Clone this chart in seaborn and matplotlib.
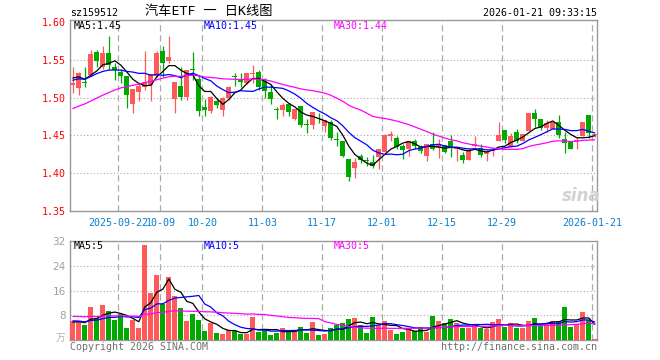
import numpy as np
import pandas as pd
import matplotlib
matplotlib.use('Agg')
import matplotlib.pyplot as plt
import seaborn as sns

# daily K-line data (88 sessions)
open_ = [1.517, 1.513, 1.520, 1.530, 1.560, 1.541, 1.559, 1.541, 1.534, 1.528,
         1.492, 1.507, 1.514, 1.516, 1.529, 1.562, 1.548, 1.498, 1.515, 1.501,
         1.538, 1.524, 1.487, 1.482, 1.495, 1.483, 1.499, 1.528, 1.523, 1.519,
         1.531, 1.534, 1.522, 1.507, 1.485, 1.483, 1.491, 1.472, 1.489, 1.465,
         1.464, 1.468, 1.463, 1.468, 1.445, 1.442, 1.419, 1.407, 1.423, 1.417,
         1.415, 1.421, 1.428, 1.449, 1.447, 1.436, 1.432, 1.442, 1.435, 1.423,
         1.438, 1.433, 1.437, 1.443, 1.432, 1.424, 1.417, 1.436, 1.433, 1.425,
         1.429, 1.442, 1.457, 1.435, 1.455, 1.443, 1.456, 1.480, 1.472, 1.460,
         1.459, 1.467, 1.445, 1.442, 1.442, 1.449, 1.477, 1.450]
high = [1.541, 1.534, 1.541, 1.563, 1.563, 1.568, 1.581, 1.545, 1.538, 1.528,
        1.511, 1.520, 1.562, 1.531, 1.561, 1.568, 1.581, 1.521, 1.541, 1.537,
        1.560, 1.530, 1.498, 1.502, 1.499, 1.501, 1.515, 1.532, 1.532, 1.532,
        1.543, 1.536, 1.526, 1.518, 1.488, 1.493, 1.493, 1.485, 1.489, 1.471,
        1.481, 1.479, 1.470, 1.470, 1.455, 1.442, 1.419, 1.420, 1.426, 1.422,
        1.424, 1.432, 1.452, 1.456, 1.449, 1.439, 1.443, 1.445, 1.437, 1.438,
        1.454, 1.445, 1.437, 1.450, 1.435, 1.428, 1.433, 1.449, 1.439, 1.431,
        1.435, 1.468, 1.457, 1.453, 1.459, 1.452, 1.479, 1.485, 1.472, 1.470,
        1.468, 1.477, 1.455, 1.442, 1.448, 1.468, 1.477, 1.452]
low = [1.506, 1.504, 1.514, 1.528, 1.541, 1.538, 1.536, 1.523, 1.519, 1.486,
       1.480, 1.495, 1.510, 1.495, 1.527, 1.527, 1.546, 1.480, 1.497, 1.497,
       1.523, 1.476, 1.476, 1.480, 1.486, 1.475, 1.497, 1.515, 1.514, 1.518,
       1.519, 1.510, 1.500, 1.491, 1.471, 1.475, 1.475, 1.470, 1.461, 1.453,
       1.458, 1.466, 1.455, 1.444, 1.436, 1.422, 1.390, 1.393, 1.414, 1.409,
       1.407, 1.406, 1.428, 1.443, 1.432, 1.419, 1.423, 1.432, 1.427, 1.416,
       1.431, 1.420, 1.427, 1.421, 1.416, 1.414, 1.417, 1.435, 1.422, 1.416,
       1.423, 1.442, 1.440, 1.435, 1.440, 1.443, 1.456, 1.461, 1.457, 1.455,
       1.459, 1.446, 1.427, 1.432, 1.432, 1.449, 1.447, 1.448]
close = [1.519, 1.533, 1.519, 1.557, 1.548, 1.559, 1.543, 1.536, 1.528, 1.503,
         1.511, 1.515, 1.521, 1.531, 1.559, 1.546, 1.554, 1.521, 1.501, 1.537,
         1.537, 1.482, 1.483, 1.501, 1.490, 1.499, 1.514, 1.527, 1.520, 1.532,
         1.533, 1.514, 1.509, 1.498, 1.484, 1.490, 1.481, 1.485, 1.464, 1.464,
         1.481, 1.467, 1.470, 1.447, 1.444, 1.423, 1.395, 1.415, 1.417, 1.416,
         1.409, 1.432, 1.450, 1.452, 1.434, 1.431, 1.442, 1.436, 1.429, 1.438,
         1.432, 1.438, 1.428, 1.435, 1.435, 1.418, 1.431, 1.439, 1.424, 1.428,
         1.431, 1.451, 1.444, 1.449, 1.443, 1.452, 1.479, 1.472, 1.460, 1.466,
         1.468, 1.450, 1.440, 1.432, 1.444, 1.468, 1.453, 1.451]
volume = [6.1, 6.1, 4.7, 10.8, 7.2, 11.2, 9.5, 6.5, 8.5, 4.0,
          6.5, 4.0, 30.6, 15.2, 20.9, 11.5, 20.5, 14.1, 10.3, 6.1,
          8.3, 6.6, 2.9, 5.4, 2.2, 1.8, 3.1, 2.9, 2.0, 2.0,
          7.4, 2.5, 3.3, 1.5, 2.2, 3.8, 2.9, 3.3, 4.1, 2.2,
          5.8, 1.5, 1.8, 3.8, 4.9, 5.4, 6.9, 7.1, 4.7, 2.2,
          7.4, 4.7, 6.1, 3.3, 1.8, 2.5, 3.6, 2.9, 4.1, 2.5,
          7.7, 6.1, 5.4, 6.7, 5.4, 3.8, 3.8, 4.7, 3.8, 3.5,
          5.8, 6.7, 4.1, 5.4, 3.8, 3.8, 6.3, 7.1, 4.7, 5.1,
          6.1, 6.3, 10.8, 4.1, 5.1, 9.2, 6.5, 0.2]

# sessions before the visible window, estimated from where the MA lines start
prior_close = [1.430, 1.435, 1.440, 1.430, 1.445, 1.440, 1.435, 1.445,
               1.450, 1.460, 1.470, 1.465, 1.480, 1.490, 1.485, 1.500,
               1.495, 1.510, 1.505, 1.520,
               1.515, 1.525, 1.520, 1.510, 1.530,
               1.525, 1.535, 1.530, 1.520]
prior_volume = [6.5, 7.8, 7.0, 8.2, 6.8, 7.5, 6.9, 7.4, 7.1, 6.6, 7.3,
                9.2, 10.5, 9.8, 8.9, 10.2, 9.6, 10.8, 9.1, 9.4,
                6.8, 7.2, 6.1, 6.5, 6.4,
                5.5, 6.2, 5.4, 5.8]

date_idx = [8, 15, 22, 32, 42, 52, 62, 72, 87]
date_labels = ['2025-09-22', '10-09', '10-20', '11-03', '11-17',
               '12-01', '12-15', '12-29', '2026-01-21']
price_ticks = [1.35, 1.40, 1.45, 1.50, 1.55, 1.60]
vol_ticks = [8, 16, 24, 32]

RED = '#ff5a5a'
GREEN = '#00a800'
GRID = '#aaaaaa'
W, H = 660, 360

sns.set_style('white')
plt.rcParams['font.family'] = ['DejaVu Sans Mono', 'Noto Sans CJK SC']

df = pd.DataFrame({'open': open_, 'high': high, 'low': low,
                   'close': close, 'volume': volume})
df['idx'] = np.arange(len(df))
df['up'] = df['close'] >= df['open']
n0 = len(prior_close)
all_c = pd.Series(prior_close + close)
all_v = pd.Series(prior_volume + volume)
for w in (5, 10, 30):
    df[f'ma{w}'] = all_c.rolling(w).mean().iloc[n0:].values
    df[f'vma{w}'] = all_v.rolling(w).mean().iloc[n0:].values

fig = plt.figure(figsize=(6.6, 3.6), dpi=100)
ax = fig.add_axes([70 / W, 1 - 211 / H, 527 / W, 191 / H])
axv = fig.add_axes([70 / W, 1 - 340 / H, 527 / W, 99.5 / H])

xlim = (-0.47, 87.37)
line_x = [i - 0.42 for i in date_idx]
colors = np.where(df['up'], RED, GREEN)

# candles
ax.vlines(df['idx'], df['low'], df['high'], colors=colors, lw=0.9, zorder=3)
body = (df['close'] - df['open']).abs().clip(lower=0.0012)
ax.bar(df['idx'], body, bottom=df[['open', 'close']].min(axis=1),
       width=0.8, color=colors, linewidth=0, zorder=3)
sns.lineplot(data=df, x='idx', y='ma5', color='black', lw=0.9, ax=ax, zorder=4)
sns.lineplot(data=df, x='idx', y='ma10', color='#0000ff', lw=0.9, ax=ax, zorder=4)
sns.lineplot(data=df, x='idx', y='ma30', color='#ff00ff', lw=0.9, ax=ax, zorder=4)

ax.set_xlim(*xlim)
ax.set_ylim(1.35, 1.6025)
for y in price_ticks[1:-1]:
    ax.axhline(y, color=GRID, lw=0.8, ls=(0, (1, 2)), zorder=1)
for x in line_x:
    ax.axvline(x, color=GRID, lw=0.9, ls=(0, (5, 3)), zorder=1)
ax.set_yticks(price_ticks)
ax.set_yticklabels([f'{p:.2f}' for p in price_ticks], color='red', fontsize=7.2)
ax.set_xticks(line_x)
ax.set_xticklabels(date_labels, color='#0a7fd0', fontsize=7.2)
ax.tick_params(length=0, pad=3)
ax.tick_params(axis='x', pad=5)
ax.set_xlabel('')
ax.set_ylabel('')

# volume
axv.bar(df['idx'], df['volume'], width=0.8, color=colors, linewidth=0, zorder=3)
sns.lineplot(data=df, x='idx', y='vma5', color='black', lw=0.9, ax=axv, zorder=4)
sns.lineplot(data=df, x='idx', y='vma10', color='#0000ff', lw=0.9, ax=axv, zorder=4)
sns.lineplot(data=df, x='idx', y='vma30', color='#ff00ff', lw=0.9, ax=axv, zorder=4)
axv.set_xlim(*xlim)
axv.set_ylim(0, 32.2)
for y in vol_ticks[:-1]:
    axv.axhline(y, color=GRID, lw=0.8, ls=(0, (1, 2)), zorder=1)
for x in line_x:
    axv.axvline(x, color=GRID, lw=0.9, ls=(0, (5, 3)), zorder=1)
axv.set_yticks(vol_ticks)
axv.set_yticklabels([str(v) for v in vol_ticks], color='#a0a0a0', fontsize=7.5,
                    family='DejaVu Sans')
axv.set_xticks([])
axv.tick_params(length=0, pad=3)
axv.set_xlabel('')
axv.set_ylabel('')

for a in (ax, axv):
    for s in a.spines.values():
        s.set_color('#999999')
        s.set_linewidth(1.0)

def ftext(x, y, s, **kw):
    fig.text(x / W, 1 - y / H, s, va='center', **kw)

ftext(70, 13, 'sz159512', fontsize=7.2, color='black')
ftext(209, 12, '汽车ETF 一 日K线图', fontsize=9.5, color='black', ha='center')
ftext(597, 13, '2026-01-21 09:33:15', fontsize=7.2, color='black', ha='right')
ftext(74, 26, 'MA5:1.45', fontsize=7.2, color='black')
ftext(204, 26, 'MA10:1.45', fontsize=7.2, color='#0000ff')
ftext(334, 26, 'MA30:1.44', fontsize=7.2, color='#ff00ff')
ftext(74, 246, 'MA5:5', fontsize=7.2, color='black')
ftext(204, 246, 'MA10:5', fontsize=7.2, color='#0000ff')
ftext(334, 246, 'MA30:5', fontsize=7.2, color='#ff00ff')
ftext(65, 338, '万', fontsize=7, color='#b0b0b0', ha='right')
ftext(70, 347, 'Copyright 2026 SINA.COM', fontsize=7.2, color='#707070')
ftext(597, 347, 'http://finance.sina.com.cn', fontsize=7.2, color='#707070', ha='right')
ftext(581, 196, 'sina', fontsize=12, color='#d2d2d2', ha='center',
      fontweight='bold', style='italic', family='DejaVu Sans')

fig.savefig('out.png', dpi=100)
